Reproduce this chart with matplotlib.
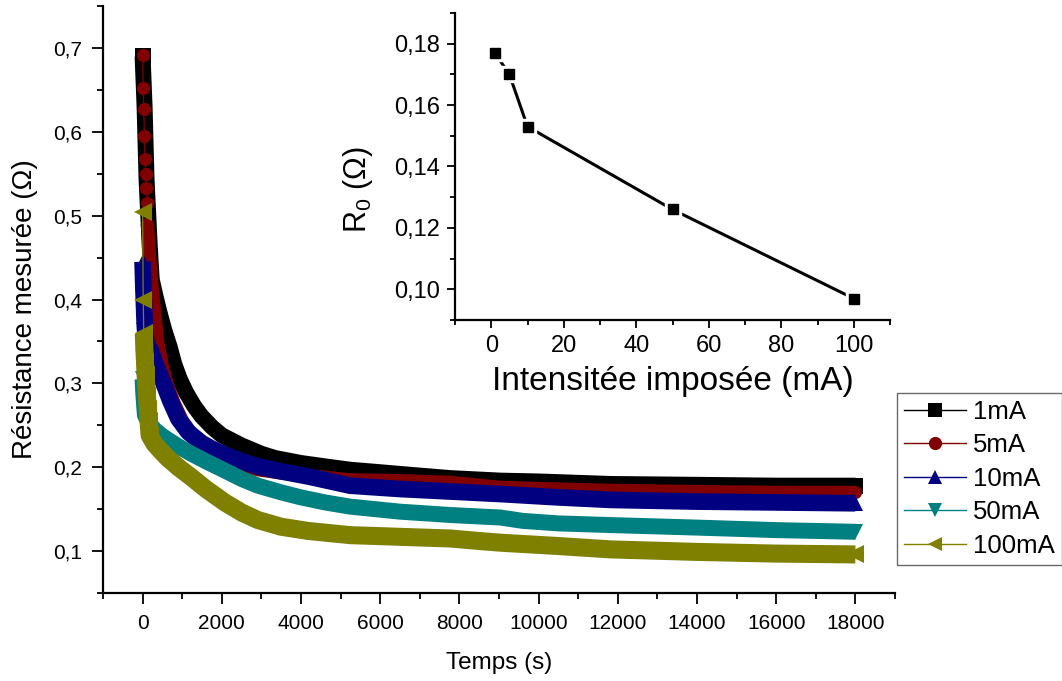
import matplotlib
matplotlib.use("Agg")
import matplotlib.pyplot as plt
from matplotlib.ticker import FixedLocator, MultipleLocator
import numpy as np

plt.rcParams['font.family'] = ['Liberation Sans', 'DejaVu Sans']
plt.rcParams['mathtext.default'] = 'regular'

# ---------------- data ----------------
series_labels = ['1mA', '5mA', '10mA', '50mA', '100mA']

t_1mA = [0, 50, 100, 180, 230, 330, 430, 550, 680, 800, 940, 1100, 1300, 1486, 1750, 2000, 2498,
         3000, 3342, 4000, 4608, 5240, 6000, 7000, 7772, 9038, 10000, 11823, 14000, 16000, 18000]
r_1mA = [0.69, 0.63, 0.543, 0.464, 0.424, 0.403, 0.384, 0.363, 0.344, 0.323, 0.305, 0.289, 0.273, 0.261, 0.248, 0.238, 0.226,
         0.216, 0.211, 0.205, 0.201, 0.197, 0.194, 0.190, 0.187, 0.184, 0.183, 0.180, 0.179, 0.178, 0.178]

t_5mA = [0, 15, 30, 45, 60, 75, 90, 105, 120, 180, 250, 380, 500, 650, 800, 1000, 1250, 1486, 1750, 2076, 2500, 2911,
         3500, 4177, 5240, 6500, 7772, 9038, 10500, 11823, 14000, 16000, 18000]
r_5mA = [0.691, 0.652, 0.627, 0.595, 0.568, 0.550, 0.533, 0.5145, 0.49, 0.45, 0.41, 0.35, 0.32, 0.295, 0.276, 0.256, 0.239, 0.227, 0.218, 0.209, 0.202, 0.197,
         0.193, 0.190, 0.185, 0.184, 0.182, 0.176, 0.174, 0.1725, 0.171, 0.170, 0.170]

t_10mA = [0, 15, 30, 45, 60, 80, 120, 200, 350, 530, 700, 900, 1150, 1486, 1750, 2076, 2500, 2911, 3500, 4177, 5240,
          6500, 7772, 9038, 10500, 11823, 14000, 16000, 18000]
r_10mA = [0.445, 0.42, 0.40, 0.38, 0.365, 0.355, 0.345, 0.34, 0.32, 0.30, 0.279, 0.258, 0.242, 0.229, 0.222, 0.215, 0.207, 0.201, 0.195, 0.189, 0.178,
          0.174, 0.171, 0.168, 0.164, 0.161, 0.159, 0.158, 0.157]

t_50mA = [0, 15, 30, 45, 60, 100, 177, 300, 450, 633, 900, 1233, 1600, 2076, 2500, 2911, 3500, 4000, 4608, 5240, 6500,
          7772, 9038, 9600, 10500, 11823, 14000, 16000, 18000]
r_50mA = [0.305, 0.29, 0.28, 0.27, 0.262, 0.258, 0.252, 0.245, 0.239, 0.233, 0.225, 0.216, 0.207, 0.196, 0.186, 0.178, 0.170, 0.164, 0.158, 0.153, 0.147,
          0.143, 0.140, 0.136, 0.133, 0.131, 0.128, 0.125, 0.123]

t_100mA = [0, 15, 30, 45, 60, 75, 90, 110, 130, 150, 177, 300, 450, 633, 900, 1233, 1600, 2076, 2500, 2911, 3500, 4177,
           5240, 6500, 7772, 8500, 9038, 10500, 11823, 14000, 16000, 18000]
r_100mA = [0.504, 0.40, 0.36, 0.34, 0.326, 0.31, 0.30, 0.285, 0.27, 0.255, 0.238, 0.228, 0.220, 0.211, 0.200, 0.188, 0.174, 0.158, 0.146, 0.137, 0.129, 0.124,
           0.119, 0.117, 0.115, 0.112, 0.110, 0.106, 0.102, 0.099, 0.097, 0.096]

# inset: R0 vs imposed current
inset_current = [1, 5, 10, 50, 100]
inset_r0 = [0.177, 0.170, 0.153, 0.126, 0.097]

main_xticks = [0, 2000, 4000, 6000, 8000, 10000, 12000, 14000, 16000, 18000]
main_xticklabels = ['0', '2000', '4000', '6000', '8000', '10000', '12000', '14000', '16000', '18000']
main_yticks = [0.1, 0.2, 0.3, 0.4, 0.5, 0.6, 0.7]
main_yticklabels = ['0,1', '0,2', '0,3', '0,4', '0,5', '0,6', '0,7']
inset_xticks = [0, 20, 40, 60, 80, 100]
inset_xticklabels = ['0', '20', '40', '60', '80', '100']
inset_yticks = [0.10, 0.12, 0.14, 0.16, 0.18]
inset_yticklabels = ['0,10', '0,12', '0,14', '0,16', '0,18']

# ---------------- styling ----------------
colors = ['#000000', '#800000', '#000080', '#008080', '#808000']
markers = ['s', 'o', '^', 'v', '<']
marker_sizes = [11, 9.5, 12, 12, 12.5]
band_widths = [11.5, 9.5, 12, 11.5, 13]
band_start = [0, 8, 0, 0, 2]
n_sparse = [1, 9, 8, 6, 11]   # number of leading points drawn as separate markers

fig = plt.figure(figsize=(10.62, 6.81), dpi=100)
ax = fig.add_axes([103/1062, 1-593/681, (895-103)/1062, (593-6)/681])

all_t = [t_1mA, t_5mA, t_10mA, t_50mA, t_100mA]
all_r = [r_1mA, r_5mA, r_10mA, r_50mA, r_100mA]
handles = []
for i in range(5):
    t = np.array(all_t[i]); r = np.array(all_r[i])
    z = 2 + i
    s = band_start[i]
    ax.plot(t[s:], r[s:], color=colors[i], lw=band_widths[i], solid_capstyle='butt',
            solid_joinstyle='round', zorder=z)
    me = list(range(n_sparse[i])) + [len(t) - 1]
    h, = ax.plot(t, r, color=colors[i], lw=0.9, marker=markers[i], ms=marker_sizes[i],
                 mec=colors[i], mfc=colors[i], mew=0, markevery=me, zorder=z,
                 label=series_labels[i])
    handles.append(h)

ax.set_xlim(-1000, 19000)
ax.set_ylim(0.05, 0.75)
for sp in ['top', 'right']:
    ax.spines[sp].set_visible(False)
for sp in ['left', 'bottom']:
    ax.spines[sp].set_linewidth(1.6)
ax.xaxis.set_major_locator(FixedLocator(main_xticks))
ax.set_xticklabels(main_xticklabels)
ax.xaxis.set_minor_locator(MultipleLocator(1000))
ax.yaxis.set_major_locator(FixedLocator(main_yticks))
ax.set_yticklabels(main_yticklabels)
ax.yaxis.set_minor_locator(MultipleLocator(0.05))
ax.tick_params(which='major', direction='out', length=8, width=1.3, labelsize=15, pad=7)
ax.tick_params(which='minor', direction='out', length=4.5, width=1.3)
ax.set_xlabel('Temps (s)', fontsize=17.5, labelpad=14)
ax.set_ylabel('Résistance mesurée (Ω)', fontsize=20)
ax.yaxis.set_label_coords((38 - 103) / 792, (593 - 309) / 587)

leg = fig.legend(handles=handles, loc='upper left', bbox_to_anchor=(897/1062, 1-393/681),
                 frameon=True, fancybox=False, edgecolor='#444444', fontsize=18.5,
                 handlelength=2.4, handletextpad=0.3, borderpad=0.27, labelspacing=0.37,
                 borderaxespad=0)
leg.get_frame().set_linewidth(1.0)
for lh in leg.legend_handles:
    lh.set_markevery([1])
    lh.set_markersize(9.5)
    lh.set_linewidth(1.0)

# ---------------- inset ----------------
axin = fig.add_axes([455/1062, 1-320/681, (890-455)/1062, (320-13)/681])
axin.plot(inset_current, inset_r0, color='black', lw=2.2, zorder=2)
axin.plot(inset_current, inset_r0, linestyle='none', marker='s', ms=11, mfc='white', mec='white', zorder=3)
axin.plot(inset_current, inset_r0, linestyle='none', marker='s', ms=7.5, mfc='black', mec='black', zorder=4)
axin.set_xlim(-10, 110)
axin.set_ylim(0.09, 0.19)
for sp in ['top', 'right']:
    axin.spines[sp].set_visible(False)
for sp in ['left', 'bottom']:
    axin.spines[sp].set_linewidth(1.6)
axin.xaxis.set_major_locator(FixedLocator(inset_xticks))
axin.set_xticklabels(inset_xticklabels)
axin.xaxis.set_minor_locator(MultipleLocator(10))
axin.yaxis.set_major_locator(FixedLocator(inset_yticks))
axin.set_yticklabels(inset_yticklabels)
axin.yaxis.set_minor_locator(MultipleLocator(0.01))
axin.tick_params(which='major', direction='out', length=6, width=1.3, labelsize=17, pad=5)
axin.tick_params(which='minor', direction='out', length=3.5, width=1.3)
axin.set_xlabel('Intensitée imposée (mA)', fontsize=24, labelpad=6)
axin.set_ylabel('R$_0$ (Ω)', fontsize=22)
axin.yaxis.set_label_coords((375 - 455) / 435, (320 - 190) / 307)

fig.savefig('out.png', dpi=100)
